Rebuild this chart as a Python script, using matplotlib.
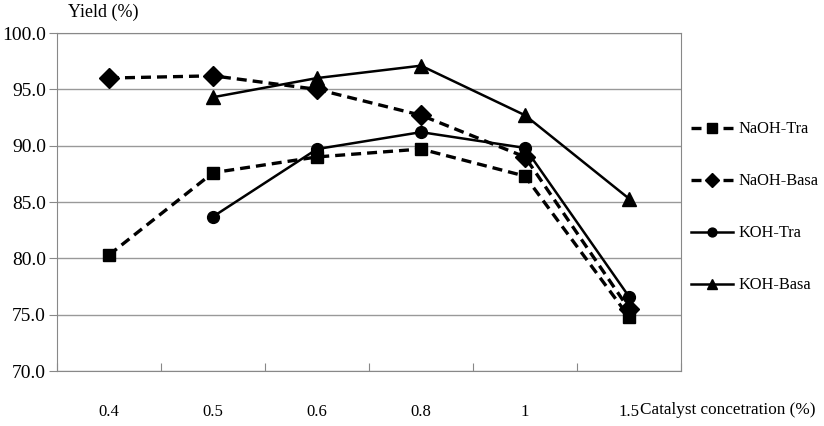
import numpy as np
import matplotlib.pyplot as plt

# Yield vs catalyst concentration
categories = ["0.4", "0.5", "0.6", "0.8", "1", "1.5"]
naoh_tra = [80.3, 87.6, 89.0, 89.7, 87.3, 74.8]
naoh_basa = [96.0, 96.2, 95.0, 92.7, 89.0, 75.5]
koh_tra = [np.nan, 83.7, 89.7, 91.2, 89.8, 76.6]
koh_basa = [np.nan, 94.3, 96.0, 97.1, 92.7, 85.3]
yticks = [70, 75, 80, 85, 90, 95, 100]

plt.rcParams['font.family'] = ['Liberation Serif', 'DejaVu Serif']

fig = plt.figure(figsize=(8.24, 4.26), dpi=100)
ax = fig.add_axes([57/824, 1 - 371/426, 624/824, 338/426])

x = np.arange(len(categories))
ax.plot(x, naoh_tra, 'k--', marker='s', ms=9, lw=2.4, dashes=(3, 1.8), label='NaOH-Tra')
ax.plot(x, naoh_basa, 'k--', marker='D', ms=10, lw=2.4, dashes=(3, 1.8), label='NaOH-Basa')
ax.plot(x, koh_tra, 'k-', marker='o', ms=8.5, lw=1.8, label='KOH-Tra')
ax.plot(x, koh_basa, 'k-', marker='^', ms=10, lw=1.8, label='KOH-Basa')

ax.set_xlim(-0.5, len(categories) - 0.5)
ax.set_ylim(70, 100)
ax.set_yticks(yticks)
ax.set_yticklabels([f"{v:.1f}" for v in yticks], fontsize=14)
ax.set_xticks(np.arange(len(categories) + 1) - 0.5)
ax.set_xticklabels([])
ax.set_xticks(x, minor=True)
ax.set_xticklabels(categories, minor=True, fontsize=12)
ax.tick_params(axis='x', which='minor', length=0, pad=24)
ax.tick_params(axis='x', which='major', length=6, direction='in', color='#888888')
ax.tick_params(axis='y', length=6, direction='out', color='#888888', pad=2)
ax.grid(axis='y', color='#999999', lw=1)
for s in ax.spines.values():
    s.set_color('#888888')

fig.text(68/824, 1 - 12/426, "Yield (%)", fontsize=13, va='center', ha='left')
fig.text(640/824, 1 - 410/426, "Catalyst concetration (%)", fontsize=12.3, va='center', ha='left')

ax.legend(loc='center left', bbox_to_anchor=(1.0, 0.484), frameon=False, fontsize=11.8,
          handlelength=2.6, labelspacing=2.2, handletextpad=0.3, borderaxespad=0.2,
          markerscale=0.75)

fig.savefig("out.png", dpi=100)
